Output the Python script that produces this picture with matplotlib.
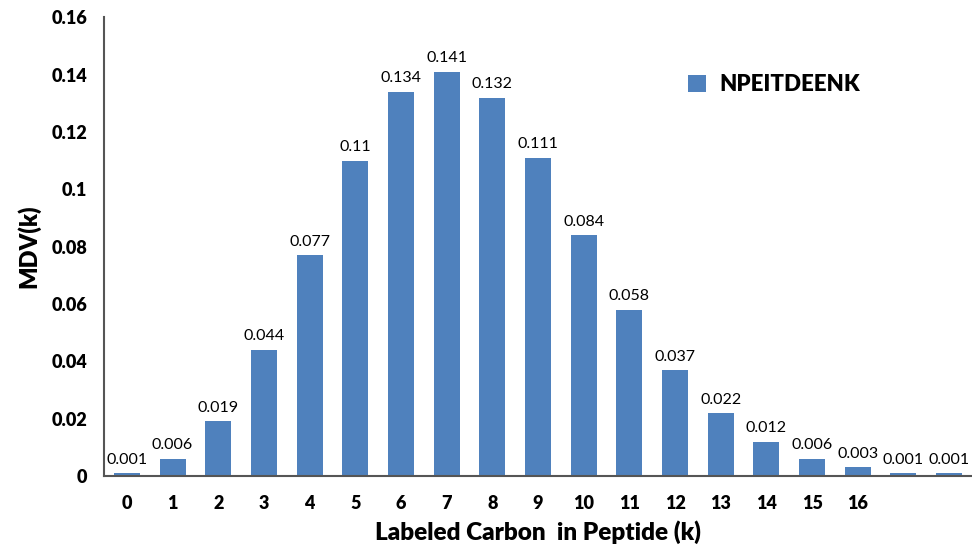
import numpy as np
import matplotlib.pyplot as plt

# MDV distribution for the peptide
k = np.arange(19)
mdv = [0.001, 0.006, 0.019, 0.044, 0.077, 0.11, 0.134, 0.141, 0.132, 0.111,
       0.084, 0.058, 0.037, 0.022, 0.012, 0.006, 0.003, 0.001, 0.001]
tick_labels = [str(i) for i in range(17)]
series = 'NPEITDEENK'

plt.rcParams['font.family'] = ['Lato', 'DejaVu Sans']

fig = plt.figure(figsize=(9.72, 5.56), dpi=100)
ax = fig.add_axes([0.107, 0.144, 0.893, 0.825])

bars = ax.bar(k, mdv, width=0.57, color='#4F81BD', label=series)
for x, v in zip(k, mdv):
    ax.text(x, v + 0.0022, f'{v:g}', ha='center', va='bottom', fontsize=11.5)

ax.set_xlim(-0.5, 18.5)
ax.set_ylim(0, 0.16)
ax.set_xticks(range(17))
ax.set_xticklabels(tick_labels, fontsize=13, fontweight='heavy')
ax.set_yticks(np.arange(0, 0.161, 0.02))
ax.set_yticklabels(['0', '0.02', '0.04', '0.06', '0.08', '0.1', '0.12', '0.14', '0.16'],
                   fontsize=13, fontweight='heavy')
ax.tick_params(length=0, pad=14)
ax.tick_params(axis='y', pad=12)

for s in ['top', 'right']:
    ax.spines[s].set_visible(False)
for s in ['left', 'bottom']:
    ax.spines[s].set_color('#555555')
    ax.spines[s].set_linewidth(1.5)

ax.set_xlabel('Labeled Carbon  in Peptide (k)', fontsize=17.5, fontweight='heavy', labelpad=6)
ax.set_ylabel('MDV(k)', fontsize=17, fontweight='heavy', labelpad=8)

ax.legend(loc='upper left', bbox_to_anchor=(0.65, 0.92), frameon=False,
          prop={'size': 16, 'weight': 'heavy'}, handlelength=0.8, handleheight=0.8,
          handletextpad=0.6)

fig.savefig('out.png', dpi=100)
